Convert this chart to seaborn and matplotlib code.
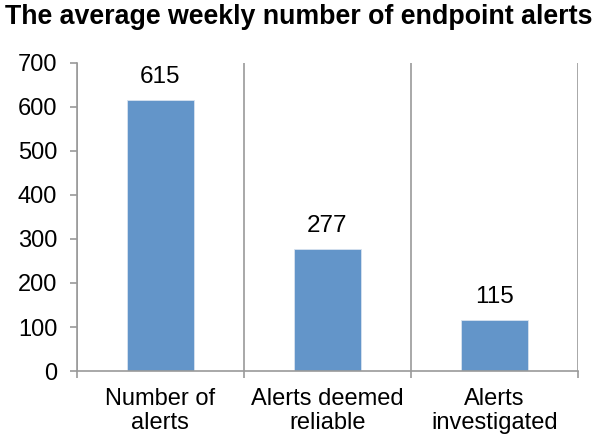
import matplotlib
matplotlib.use("Agg")
import matplotlib.pyplot as plt
import numpy as np
import pandas as pd
import seaborn as sns

categories = ["Number of\nalerts", "Alerts deemed\nreliable", "Alerts\ninvestigated"]
values = [615, 277, 115]
title = "The average weekly number of endpoint alerts"

sns.set_style("white")
plt.rcParams["font.family"] = ["Liberation Sans", "DejaVu Sans"]
plt.rcParams["text.color"] = "black"
plt.rcParams["xtick.labelcolor"] = "black"
plt.rcParams["ytick.labelcolor"] = "black"

df = pd.DataFrame({"category": categories, "value": values})

fig = plt.figure(figsize=(6, 4.42), dpi=100)
ax = fig.add_axes([0.128, 0.1606, 0.835, 0.697])

sns.barplot(data=df, x="category", y="value", color="#6395C9", width=0.4,
            saturation=1, ax=ax, edgecolor="#d8e3ef", linewidth=0.6)

for c in ax.containers:
    ax.bar_label(c, fmt="%d", padding=9, fontsize=17.5, color="black")

ax.set_xlim(-0.5, 2.5)
ax.set_ylim(0, 700)
ax.set_yticks(np.arange(0, 701, 100))
ax.set_xlabel("")
ax.set_ylabel("")

# separators between categories
ax.set_xticks([-0.5, 0.5, 1.5, 2.5], minor=True)
ax.grid(axis="x", which="minor", color="#9a9a9a", linewidth=1.2)
ax.grid(axis="x", which="major", visible=False)
ax.grid(axis="y", visible=False)
ax.tick_params(axis="x", which="major", length=0, labelsize=17, pad=12)
ax.tick_params(axis="x", which="minor", length=5, direction="out", color="#9a9a9a", width=1.2)
ax.tick_params(axis="y", length=5, direction="out", color="#9a9a9a", width=1.2, labelsize=17, pad=9)
ax.yaxis.set_ticks_position("left")
ax.xaxis.set_ticks_position("bottom")
for lbl in ax.get_xticklabels():
    lbl.set_linespacing(1.15)

for s in ["top", "right"]:
    ax.spines[s].set_visible(False)
for s in ["left", "bottom"]:
    ax.spines[s].set_color("#9a9a9a")
    ax.spines[s].set_linewidth(1.2)

fig.text(0.008, 0.962, title, fontsize=19.3, fontweight="bold", ha="left", va="center")

fig.savefig("out.png", dpi=100)
